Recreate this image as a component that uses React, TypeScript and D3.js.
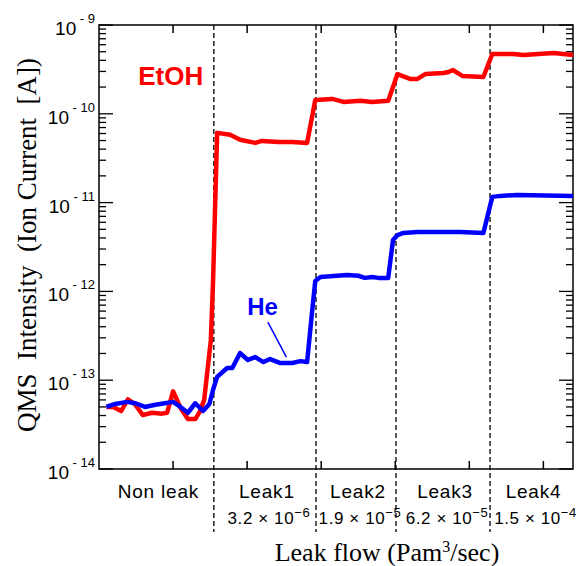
import React, { useRef, useEffect } from "react";
import { select, scaleLinear, scaleLog, line } from "d3";

// time (min) vs ion current [A]
const etoh = [
  [1.0, 5.0e-14], [1.9, 5.0e-14], [3.0, 4.5e-14], [3.9, 6.1e-14], [4.9, 5.3e-14],
  [5.9, 4.05e-14], [7.2, 4.3e-14], [8.5, 4.2e-14], [9.2, 4.3e-14], [10.0, 7.5e-14],
  [11.0, 4.9e-14], [12.0, 3.65e-14], [13.0, 3.65e-14], [13.6, 4.4e-14], [14.2, 6.0e-14],
  [14.6, 1.2e-13], [15.1, 2.8e-13], [15.4, 1.3e-12], [15.95, 6.1e-11], [17.7, 5.8e-11],
  [19.05, 5.1e-11], [21.1, 4.7e-11], [22.0, 4.95e-11], [24.2, 4.8e-11], [26.1, 4.8e-11],
  [28.1, 4.7e-11], [29.2, 1.43e-10], [31.5, 1.47e-10], [33.0, 1.36e-10], [35.3, 1.4e-10],
  [36.9, 1.36e-10], [39.05, 1.4e-10], [40.3, 2.8e-10], [42.0, 2.47e-10], [43.0, 2.47e-10],
  [44.05, 2.8e-10], [46.5, 2.88e-10], [47.2, 2.96e-10], [47.8, 3.11e-10], [49.05, 2.67e-10],
  [51.9, 2.6e-10], [53.1, 4.71e-10], [55.9, 4.71e-10], [57.3, 4.6e-10], [61.4, 4.84e-10],
  [64.0, 4.6e-10],
];

const he = [
  [1.0, 5.0e-14], [2.2, 5.4e-14], [3.8, 5.7e-14], [4.9, 5.5e-14], [6.2, 5.0e-14],
  [7.6, 5.3e-14], [8.9, 5.5e-14], [10.0, 5.7e-14], [11.0, 5.0e-14], [12.0, 4.3e-14],
  [13.0, 5.5e-14], [14.05, 4.5e-14], [14.9, 5.4e-14], [15.4, 7.8e-14], [15.95, 1.09e-13],
  [17.3, 1.37e-13], [18.0, 1.37e-13], [19.05, 2.02e-13], [20.1, 1.69e-13], [21.1, 1.82e-13],
  [22.2, 1.6e-13], [23.1, 1.73e-13], [24.5, 1.56e-13], [26.1, 1.56e-13], [27.2, 1.64e-13],
  [28.1, 1.6e-13], [28.8, 6.2e-13], [29.2, 1.31e-12], [29.9, 1.45e-12], [33.5, 1.53e-12],
  [35.0, 1.5e-12], [35.9, 1.42e-12], [36.9, 1.45e-12], [37.7, 1.42e-12], [39.05, 1.42e-12],
  [39.7, 3.8e-12], [40.3, 4.3e-12], [41.1, 4.55e-12], [43.0, 4.67e-12], [48.8, 4.67e-12],
  [51.9, 4.55e-12], [53.1, 1.16e-11], [54.2, 1.19e-11], [56.5, 1.22e-11], [64.0, 1.19e-11],
];

const boundaries = [15.5, 29.3, 40.1, 52.8];
const phaseNames = ["Non leak", "Leak1", "Leak2", "Leak3", "Leak4"];
const flowMantissa = ["", "3.2", "1.9", "6.2", "1.5"];
const flowExp = ["", "−6", "−5", "−5", "−4"];
const yDecades = [1e-9, 1e-10, 1e-11, 1e-12, 1e-13, 1e-14];
const xTicks = [10, 20, 30, 40, 50, 60];

export default function App() {
  const svgRef = useRef<SVGSVGElement>(null);

  useEffect(() => {
    const svg = select(svgRef.current);
    svg.selectAll("*").remove();

    const x = scaleLinear().domain([0, 64]).range([99, 573]);
    const y = scaleLog().domain([1e-14, 1e-9]).range([469, 25]);
    const sans = "Liberation Sans, Arial, sans-serif";
    const serif = "Liberation Serif, Times New Roman, serif";

    // dashed phase separators
    svg.selectAll(".sep").data(boundaries).join("line")
      .attr("x1", d => x(d)).attr("x2", d => x(d))
      .attr("y1", 25).attr("y2", 532)
      .attr("stroke", "#222").attr("stroke-width", 1.5)
      .attr("stroke-dasharray", "5,3");

    // frame
    svg.append("rect")
      .attr("x", 99).attr("y", 25).attr("width", 474).attr("height", 444)
      .attr("fill", "none").attr("stroke", "#000").attr("stroke-width", 1.5);

    // x ticks top & bottom
    const xt = svg.append("g").attr("stroke", "#000").attr("stroke-width", 1.5);
    xTicks.forEach(t => {
      xt.append("line").attr("x1", x(t)).attr("x2", x(t)).attr("y1", 469).attr("y2", 461);
      xt.append("line").attr("x1", x(t)).attr("x2", x(t)).attr("y1", 25).attr("y2", 33);
    });

    // y ticks left & right
    const yt = svg.append("g").attr("stroke", "#000").attr("stroke-width", 1.3);
    y.ticks().forEach(t => {
      const major = Math.abs(Math.log10(t) - Math.round(Math.log10(t))) < 1e-6;
      const len = major ? 14 : 7;
      yt.append("line").attr("x1", 99).attr("x2", 99 + len).attr("y1", y(t)).attr("y2", y(t));
      yt.append("line").attr("x1", 573).attr("x2", 573 - len).attr("y1", y(t)).attr("y2", y(t));
    });

    // y tick labels
    yDecades.forEach(d => {
      const tx = svg.append("text")
        .attr("x", 95).attr("y", y(d) + 10)
        .attr("text-anchor", "end")
        .attr("font-family", sans).attr("fill", "#000");
      tx.append("tspan").attr("font-size", 19).text("10");
      tx.append("tspan").attr("font-size", 13).attr("dy", -12)
        .text("\u00a0- " + Math.round(-Math.log10(d)));
    });

    // series lines
    const ln = line<number[]>().x(d => x(d[0])).y(d => y(d[1]));
    svg.append("path").datum(etoh).attr("d", ln)
      .attr("fill", "none").attr("stroke", "#ff0000").attr("stroke-width", 4.5)
      .attr("stroke-linejoin", "round");
    svg.append("path").datum(he).attr("d", ln)
      .attr("fill", "none").attr("stroke", "#0000ff").attr("stroke-width", 4.5)
      .attr("stroke-linejoin", "round");

    // series annotations
    svg.append("text").attr("x", x(5.3)).attr("y", y(2.11e-10))
      .attr("font-family", sans).attr("font-weight", "bold").attr("font-size", 26)
      .attr("fill", "#ff0000").text("EtOH");
    svg.append("text").attr("x", x(20.0)).attr("y", y(5.4e-13))
      .attr("font-family", sans).attr("font-weight", "bold").attr("font-size", 24)
      .attr("fill", "#0000ff").text("He");
    svg.append("line")
      .attr("x1", x(22.8)).attr("y1", y(4.5e-13))
      .attr("x2", x(25.3)).attr("y2", y(1.82e-13))
      .attr("stroke", "#0000ff").attr("stroke-width", 1.5);

    // phase labels under the axis
    const edges = [0, ...boundaries, 64];
    phaseNames.forEach((name, i) => {
      const cx = (x(edges[i]) + x(edges[i + 1])) / 2;
      svg.append("text").attr("x", cx + 2).attr("y", 498)
        .attr("text-anchor", "middle").attr("font-family", sans)
        .attr("font-size", 19).attr("letter-spacing", 0.8).attr("fill", "#000")
        .text(name);
      if (flowMantissa[i]) {
        const ft = svg.append("text").attr("x", cx + 4).attr("y", 524)
          .attr("text-anchor", "middle").attr("font-family", sans)
          .attr("font-size", 17).attr("letter-spacing", 0.6).attr("fill", "#000");
        ft.append("tspan").text(flowMantissa[i] + " × 10");
        ft.append("tspan").attr("font-size", 13).attr("dy", -7).text(flowExp[i]);
      }
    });

    // axis titles
    const xTitle = svg.append("text").attr("x", 387).attr("y", 561)
      .attr("text-anchor", "middle").attr("font-family", serif)
      .attr("font-size", 26).attr("fill", "#000");
    xTitle.append("tspan").text("Leak flow (Pam");
    xTitle.append("tspan").attr("font-size", 16).attr("dy", -9).text("3");
    xTitle.append("tspan").attr("dy", 9).text("/sec)");

    svg.append("text")
      .attr("transform", "translate(36,245) rotate(-90)")
      .attr("text-anchor", "middle").attr("font-family", serif)
      .attr("font-size", 27).attr("fill", "#000")
      .text("QMS\u00a0\u00a0Intensity\u00a0\u00a0(Ion\u00a0Current\u00a0\u00a0[A])");
  }, []);

  return (
    <svg ref={svgRef} width={580} height={566}
      style={{ position: "absolute", left: 0, top: 0, background: "#fff" }} />
  );
}
